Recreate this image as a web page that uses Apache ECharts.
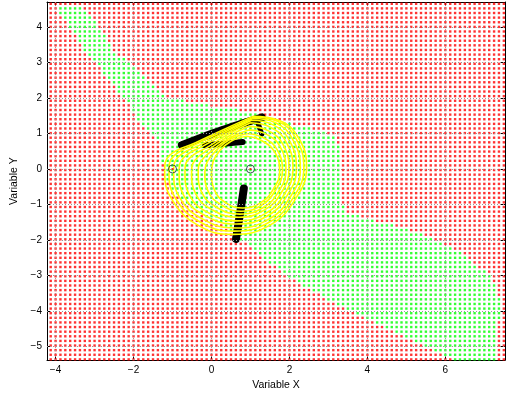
<!DOCTYPE html>
<html><head><meta charset="utf-8">
<script src="https://cdn.jsdelivr.net/npm/echarts@6/dist/echarts.min.js"></script>
<style>html,body{margin:0;padding:0;background:#fff}#c{width:508px;height:396px}</style>
</head><body><div id="c"></div>
<script>
// ---- data ----
const xTicks = [-4, -2, 0, 2, 4, 6];
const yTicks = [-5, -4, -3, -2, -1, 0, 1, 2, 3, 4];
const xRange = [-4.22, 7.53];
const yRange = [-5.38, 4.70];
// classification grid (regular mesh): [start, step, count]
const gridX = [-4.125, 0.125, 94];
const gridY = [-5.36, 0.13, 78];
// boundary of the green class region
const greenRegion = [
  [-3.99,4.65],[-3.38,4.65],[-2.86,3.98],[-2.53,3.34],[-1.97,2.90],[-1.53,2.42],[-1.12,2.01],
  [-0.30,1.84],[0.60,1.67],[1.00,1.58],[1.77,1.34],[2.80,1.06],[3.18,0.92],[3.34,0.29],[3.29,-0.77],
  [3.49,-1.24],[4.44,-1.52],[5.47,-1.88],[6.37,-2.36],[7.14,-2.99],[7.40,-3.60],[7.35,-4.99],
  [7.29,-5.38],[6.29,-5.38],[5.60,-5.06],[4.83,-4.67],[3.80,-4.11],[2.78,-3.55],[2.01,-3.05],
  [1.37,-2.55],[0.78,-2.02],[0.34,-1.60],[-0.30,-1.24],[-0.81,-0.83],[-1.12,-0.41],[-1.25,0.15],
  [-1.33,0.70],[-1.58,1.04],[-1.84,1.34],[-2.22,1.95],[-2.74,2.65],[-3.25,3.34],[-3.68,4.04],[-3.99,4.45]
];
// yellow closed trajectories
const loop0 = [[1.06,1.48],[0.33,1.12],[-0.41,0.74],[-1.08,0.38],[-1.20,-0.05],[-1.02,-0.85],[-0.35,-1.58],[0.55,-1.84],[1.50,-1.58],[2.15,-0.85],[2.44,0.05],[2.22,0.90],[1.72,1.37],[1.06,1.48]];
const loop1 = [[1.08,1.46],[0.38,1.10],[-0.33,0.73],[-0.97,0.36],[-1.09,-0.06],[-0.92,-0.83],[-0.28,-1.50],[0.58,-1.75],[1.48,-1.50],[2.09,-0.82],[2.37,0.04],[2.16,0.87],[1.70,1.34],[1.08,1.46]];
const loop2 = [[1.06,1.42],[0.40,1.07],[-0.25,0.70],[-0.86,0.33],[-0.97,-0.07],[-0.82,-0.80],[-0.21,-1.42],[0.61,-1.66],[1.46,-1.42],[2.02,-0.79],[2.28,0.03],[2.08,0.84],[1.64,1.30],[1.06,1.42]];
const loop3 = [[1.03,1.37],[0.42,1.03],[-0.17,0.67],[-0.73,0.30],[-0.83,-0.08],[-0.70,-0.77],[-0.13,-1.33],[0.64,-1.55],[1.42,-1.33],[1.94,-0.75],[2.18,0.02],[2.00,0.80],[1.58,1.24],[1.03,1.37]];
const loop4 = [[1.00,1.30],[0.43,0.98],[-0.08,0.63],[-0.59,0.27],[-0.68,-0.08],[-0.57,-0.73],[-0.05,-1.25],[0.67,-1.46],[1.39,-1.25],[1.87,-0.71],[2.09,0.01],[1.92,0.75],[1.52,1.17],[1.00,1.30]];
const loop5 = [[0.97,1.20],[0.45,0.93],[0.00,0.60],[-0.43,0.24],[-0.51,-0.09],[-0.41,-0.69],[0.04,-1.16],[0.70,-1.36],[1.35,-1.16],[1.79,-0.67],[1.99,0.00],[1.83,0.70],[1.45,1.08],[0.97,1.20]];
const loop6 = [[0.95,1.10],[0.47,0.88],[0.08,0.57],[-0.27,0.22],[-0.34,-0.09],[-0.25,-0.66],[0.15,-1.09],[0.73,-1.27],[1.32,-1.09],[1.72,-0.64],[1.91,-0.02],[1.76,0.63],[1.40,0.98],[0.95,1.10]];
const loop7 = [[0.92,1.00],[0.47,0.83],[0.13,0.53],[-0.11,0.20],[-0.17,-0.09],[-0.09,-0.62],[0.27,-1.02],[0.76,-1.19],[1.28,-1.02],[1.64,-0.60],[1.82,-0.04],[1.68,0.55],[1.33,0.88],[0.92,1.00]];
const loop8 = [[0.90,0.92],[0.50,0.78],[0.20,0.50],[0.04,0.20],[0.00,-0.09],[0.07,-0.58],[0.38,-0.96],[0.80,-1.10],[1.25,-0.96],[1.58,-0.58],[1.75,-0.06],[1.62,0.48],[1.28,0.80],[0.90,0.92]];
const yellowLoops = [loop0, loop1, loop2, loop3, loop4, loop5, loop6, loop7, loop8];
// black point clusters (dense strokes)
const blackTop = [[-0.76,0.67],[0.26,1.09],[1.29,1.45]];
const blackTopLower = [[-0.17,0.67],[0.40,0.72],[0.80,0.76]];
const blackHook = [[1.19,1.30],[1.29,0.98]];
const blackVertical = [[0.83,-0.55],[0.74,-1.20],[0.63,-1.97]];
const markerPoints = [[-1,0],[1,0]];

// ---- build ----
function inside(p, poly) {
  let c = false;
  for (let i = 0, j = poly.length - 1; i < poly.length; j = i++) {
    const xi = poly[i][0], yi = poly[i][1], xj = poly[j][0], yj = poly[j][1];
    if (((yi > p[1]) !== (yj > p[1])) && (p[0] < (xj - xi) * (p[1] - yi) / (yj - yi) + xi)) c = !c;
  }
  return c;
}
const redPts = [], greenPts = [];
for (let i = 0; i < gridX[2]; i++) {
  const x = +(gridX[0] + i * gridX[1]).toFixed(4);
  for (let j = 0; j < gridY[2]; j++) {
    const y = +(gridY[0] + j * gridY[1]).toFixed(4);
    (inside([x, y], greenRegion) ? greenPts : redPts).push([x, y]);
  }
}
const minus = v => String(v).replace('-', '\u2212');
const font = {fontFamily: 'Liberation Sans, Arial, sans-serif', fontSize: 10, color: '#000'};

const series = [];
series.push({type:'scatter', data: [], silent:true, z:1,
  markLine: {silent:true, symbol:'none', label:{show:false},
    lineStyle:{color:'#999', type:[1,2], width:1},
    data: xTicks.map(v=>({xAxis:v})).concat(yTicks.map(v=>({yAxis:v})))}});
series.push({type:'scatter', data: redPts, symbol:'rect', symbolSize:2.4, itemStyle:{color:'#ff0000'}, silent:true, large:true, largeThreshold:100000, z:2});
series.push({type:'scatter', data: greenPts, symbol:'rect', symbolSize:2.4, itemStyle:{color:'#00ff00'}, silent:true, large:true, largeThreshold:100000, z:2});
[[blackTop,8],[blackTopLower,6],[blackHook,5],[blackVertical,8]].forEach(([d,w]) => {
  series.push({type:'line', data:d, symbol:'none', smooth:0.3, silent:true, z:3,
    lineStyle:{color:'#000', width:w, cap:'round', join:'round'}});
});
yellowLoops.forEach(d => {
  series.push({type:'line', data:d, symbol:'none', smooth:0.45, silent:true, z:4,
    lineStyle:{color:'#ffff00', width:1.6}});
});
series.push({type:'scatter', data: markerPoints, symbol:'circle', symbolSize:8, silent:true, z:5,
  itemStyle:{color:'rgba(0,0,0,0)', borderColor:'#0a3030', borderWidth:1}});
series.push({type:'scatter', data: markerPoints, symbol:'rect', symbolSize:2, silent:true, z:6,
  itemStyle:{color:'#ff0000'}});

const axisCommon = (vals, showLabel) => ({
  axisLine:{show:true, onZero:false, lineStyle:{color:'#000', width:1}},
  axisTick:{show:true, inside:true, length:4, customValues:vals, lineStyle:{color:'#000'}},
  axisLabel:{show:showLabel, customValues:vals, formatter:minus, margin:5, ...font},
  splitLine:{show:false}
});

const chart = echarts.init(document.getElementById('c'), null, {renderer:'canvas'});
chart.setOption({
  animation:false,
  backgroundColor:'#fff',
  grid:{left:47, right:3, top:2, bottom:32},
  xAxis:[
    {type:'value', min:xRange[0], max:xRange[1], position:'bottom', ...axisCommon(xTicks, true),
     name:'Variable X', nameLocation:'middle', nameGap:16, nameTextStyle:{...font, fontSize:10.5}},
    {type:'value', min:xRange[0], max:xRange[1], position:'top', ...axisCommon(xTicks, false)}
  ],
  yAxis:[
    {type:'value', min:yRange[0], max:yRange[1], position:'left', ...axisCommon(yTicks, true),
     name:'Variable Y', nameLocation:'middle', nameGap:20, nameTextStyle:{...font, fontSize:10.5}},
    {type:'value', min:yRange[0], max:yRange[1], position:'right', ...axisCommon(yTicks, false)}
  ],
  series: series
});
</script></body></html>
